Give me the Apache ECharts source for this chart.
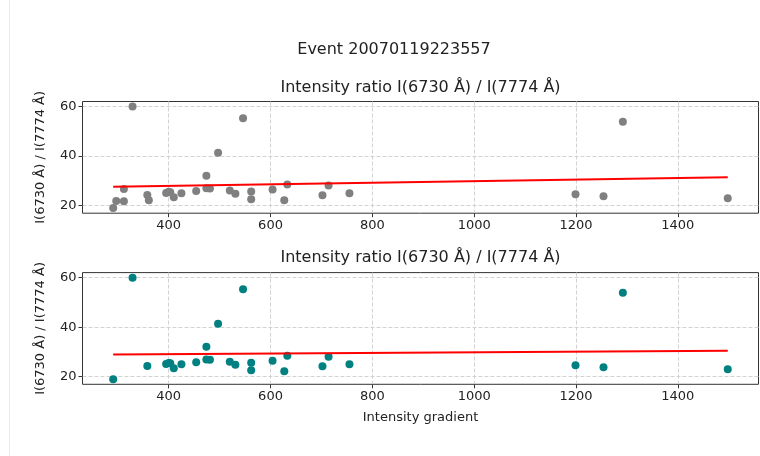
<!DOCTYPE html>
<html>
<head>
<meta charset="utf-8">
<script src="https://cdn.jsdelivr.net/npm/echarts@6/dist/echarts.min.js"></script>
<style>
  html, body { margin: 0; padding: 0; background: #ffffff; }
  #chart { width: 760px; height: 456px; }
</style>
</head>
<body>
<div id="chart"></div>
<script>
// Event 20070119223557: intensity ratio vs. intensity gradient
const suptitle = 'Event 20070119223557';
const panelTitle = 'Intensity ratio I(6730 Å) / I(7774 Å)';
const yLabel = 'I(6730 Å) / I(7774 Å)';
const xLabel = 'Intensity gradient';

// all points (upper panel)
const allGradient = [291, 297, 312, 312, 329, 358, 361, 395, 400, 403, 410, 425, 454, 474, 474, 481,
  497, 520, 531, 546, 562, 562, 604, 627, 633, 702, 714, 755, 1199, 1254, 1292, 1498];
const allRatio = [19.0, 21.9, 26.7, 21.8, 60.0, 24.3, 22.2, 25.1, 25.6, 25.4, 23.4, 25.0, 25.9, 32.1, 27.0, 26.9,
  41.4, 26.1, 24.8, 55.3, 25.7, 22.6, 26.5, 22.2, 28.5, 24.2, 28.1, 25.0, 24.6, 23.8, 53.9, 23.0];

// selected points (lower panel)
const selGradient = [291, 329, 358, 395, 400, 403, 410, 425, 454, 474, 474, 481,
  497, 520, 531, 546, 562, 562, 604, 627, 633, 702, 714, 755, 1199, 1254, 1292, 1498];
const selRatio = [19.0, 60.0, 24.3, 25.1, 25.6, 25.4, 23.4, 25.0, 25.9, 32.1, 27.0, 26.9,
  41.4, 26.1, 24.8, 55.3, 25.7, 22.6, 26.5, 22.2, 28.5, 24.2, 28.1, 25.0, 24.6, 23.8, 53.9, 23.0];

// linear fits: [gradient, ratio] at the ends of the data range
const fitAllX = [291, 1498];
const fitAllY = [27.6, 31.5];
const fitSelX = [291, 1498];
const fitSelY = [29.0, 30.5];

// axis ticks and limits
const xTicks = [400, 600, 800, 1000, 1200, 1400];
const yTicks = [20, 40, 60];
const xLimits = [230.7, 1558.4];
const yLimits = [16.95, 62.05];

const FONT = 'DejaVu Sans';
const TEXT = '#222222';

const zip = (xs, ys) => xs.map((x, i) => [x, ys[i]]);
const plain = v => String(Math.round(v));

function xAxisDef(gridIndex, withName) {
  return {
    type: 'value', gridIndex: gridIndex,
    min: xLimits[0], max: xLimits[1], splitNumber: 7,
    axisLine: { show: false },
    axisTick: { show: true, length: 4, customValues: xTicks, lineStyle: { color: '#333', width: 1 } },
    axisLabel: { customValues: xTicks, formatter: plain, color: TEXT, fontSize: 13, fontFamily: FONT, margin: 6 },
    splitLine: { show: true, lineStyle: { color: '#d2d2d2', width: 1, type: [4, 2] } },
    name: withName ? xLabel : '',
    nameLocation: 'middle', nameGap: 27,
    nameTextStyle: { color: TEXT, fontSize: 13, fontFamily: FONT }
  };
}

function yAxisDef(gridIndex) {
  return {
    type: 'value', gridIndex: gridIndex,
    min: yLimits[0], max: yLimits[1], splitNumber: 2,
    axisLine: { show: false },
    axisTick: { show: true, length: 4, customValues: yTicks, lineStyle: { color: '#333', width: 1 } },
    axisLabel: { customValues: yTicks, formatter: plain, color: TEXT, fontSize: 13, fontFamily: FONT, margin: 6 },
    splitLine: { show: true, lineStyle: { color: '#d2d2d2', width: 1, type: [4, 2] } },
    name: yLabel, nameLocation: 'middle', nameGap: 35, nameRotate: 90,
    nameTextStyle: { color: TEXT, fontSize: 13, fontFamily: FONT }
  };
}

const chart = echarts.init(document.getElementById('chart'), null, { renderer: 'canvas' });

const gridCommon = { left: 82.5, width: 676, height: 111.7, show: true, borderColor: '#333', borderWidth: 1, backgroundColor: 'transparent' };

chart.setOption({
  animation: false,
  backgroundColor: '#ffffff',
  grid: [
    Object.assign({ top: 101.5 }, gridCommon),
    Object.assign({ top: 272.6 }, gridCommon)
  ],
  xAxis: [xAxisDef(0, false), xAxisDef(1, true)],
  yAxis: [yAxisDef(0), yAxisDef(1)],
  series: [
    {
      type: 'scatter', xAxisIndex: 0, yAxisIndex: 0,
      data: zip(allGradient, allRatio),
      symbolSize: 8, itemStyle: { color: '#808080', opacity: 1 }, z: 2
    },
    {
      type: 'line', xAxisIndex: 0, yAxisIndex: 0,
      data: zip(fitAllX, fitAllY),
      symbol: 'none', lineStyle: { color: '#ff0000', width: 2 }, z: 3
    },
    {
      type: 'scatter', xAxisIndex: 1, yAxisIndex: 1,
      data: zip(selGradient, selRatio),
      symbolSize: 8, itemStyle: { color: '#008080', opacity: 1 }, z: 2
    },
    {
      type: 'line', xAxisIndex: 1, yAxisIndex: 1,
      data: zip(fitSelX, fitSelY),
      symbol: 'none', lineStyle: { color: '#ff0000', width: 2 }, z: 3
    }
  ],
  graphic: [
    { type: 'line', shape: { x1: 9.5, y1: 0, x2: 9.5, y2: 456 }, style: { stroke: '#ececec', lineWidth: 1 } },
    { type: 'text', x: 394, y: 50, style: { text: suptitle, fill: TEXT, font: '16px "DejaVu Sans"', textAlign: 'center', textVerticalAlign: 'middle' } },
    { type: 'text', x: 420.5, y: 88, style: { text: panelTitle, fill: TEXT, font: '16px "DejaVu Sans"', textAlign: 'center', textVerticalAlign: 'middle' } },
    { type: 'text', x: 420.5, y: 258, style: { text: panelTitle, fill: TEXT, font: '16px "DejaVu Sans"', textAlign: 'center', textVerticalAlign: 'middle' } }
  ]
});
</script>
</body>
</html>
